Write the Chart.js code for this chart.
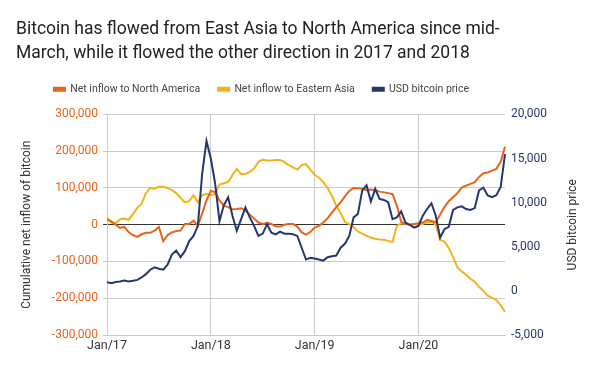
<!DOCTYPE html>
<html>
<head>
<meta charset="utf-8">
<script src="https://cdn.jsdelivr.net/npm/chart.js@4"></script>
<style>
  html, body { margin: 0; padding: 0; background: #fff; }
  #wrap { width: 600px; height: 371px; }
</style>
</head>
<body>
<div id="wrap"><canvas id="grafico" width="600" height="371"></canvas></div>
<script>
// half-monthly samples, Jan 2017 -> Nov 2020
const dates = [
  '2017-01-01','2017-01-15','2017-02-01','2017-02-15','2017-03-01','2017-03-15','2017-04-01','2017-04-15',
  '2017-05-01','2017-05-15','2017-06-01','2017-06-15','2017-07-01','2017-07-15','2017-08-01','2017-08-15',
  '2017-09-01','2017-09-15','2017-10-01','2017-10-15','2017-11-01','2017-11-15','2017-12-01','2017-12-15',
  '2018-01-01','2018-01-15','2018-02-01','2018-02-15','2018-03-01','2018-03-15','2018-04-01','2018-04-15',
  '2018-05-01','2018-05-15','2018-06-01','2018-06-15','2018-07-01','2018-07-15','2018-08-01','2018-08-15',
  '2018-09-01','2018-09-15','2018-10-01','2018-10-15','2018-11-01','2018-11-15','2018-12-01','2018-12-15',
  '2019-01-01','2019-01-15','2019-02-01','2019-02-15','2019-03-01','2019-03-15','2019-04-01','2019-04-15',
  '2019-05-01','2019-05-15','2019-06-01','2019-06-15','2019-07-01','2019-07-15','2019-08-01','2019-08-15',
  '2019-09-01','2019-09-15','2019-10-01','2019-10-15','2019-11-01','2019-11-15','2019-12-01','2019-12-15',
  '2020-01-01','2020-01-15','2020-02-01','2020-02-15','2020-03-01','2020-03-15','2020-04-01','2020-04-15',
  '2020-05-01','2020-05-15','2020-06-01','2020-06-15','2020-07-01','2020-07-15','2020-08-01','2020-08-15',
  '2020-09-01','2020-09-15','2020-10-01','2020-10-15','2020-11-01'
];

const tickDates = ['2017-01-01', '2018-01-01', '2019-01-01', '2020-01-01'];
const tickLabels = ['Jan/17', 'Jan/18', 'Jan/19', 'Jan/20'];

const inflowNorthAmerica = [
  14000, 9000, 0, -9000, -6000, -20000, -28000, -33000,
  -26000, -22000, -22000, -16000, -6000, -45000, -28000, -21000,
  -17000, -16000, 2000, 2000, 11000, -3000, 31000, 66000,
  92000, 89000, 66000, 52000, 48000, 42000, 43000, 45000,
  38000, 27000, 17000, 6000, 2000, 5000, 2000, -5000,
  -5000, 0, 2000, 2000, -5000, -21000, -27000, -20000,
  -8000, -3000, 6000, 18000, 33000, 48000, 61000, 77000,
  92000, 100000, 99000, 98000, 94000, 96000, 94000, 90000,
  88000, 86000, 83000, 52000, 8000, 2000, 0, 2000,
  4000, 6000, 13000, 10000, 6000, 27000, 48000, 64000,
  75000, 86000, 101000, 106000, 111000, 116000, 130000, 140000,
  142000, 147000, 152000, 171000, 212000
];

const inflowEasternAsia = [
  20000, 6000, 4000, 15000, 17000, 13000, 29000, 46000,
  57000, 86000, 100000, 98000, 103000, 103000, 100000, 94000,
  86000, 73000, 61000, 64000, 80000, 61000, 80000, 84000,
  80000, 83000, 109000, 113000, 116000, 135000, 152000, 138000,
  138000, 144000, 153000, 171000, 177000, 175000, 175000, 176000,
  176000, 171000, 162000, 156000, 150000, 162000, 165000, 150000,
  136000, 128000, 116000, 100000, 78000, 52000, 32000, 8000,
  2000, -6000, -18000, -24000, -30000, -35000, -38000, -40000,
  -41000, -44000, -47000, -3000, 4000, 2000, 0, 2000,
  0, 2000, 7000, 8000, 0, -41000, -46000, -63000,
  -88000, -116000, -127000, -136000, -147000, -155000, -169000, -180000,
  -193000, -199000, -205000, -219000, -237000
];

const btcPrice = [
  990, 870, 1000, 1060, 1180, 1060, 1140, 1250,
  1520, 1900, 2400, 2670, 2510, 2400, 2970, 4120,
  4580, 3820, 4500, 5650, 6230, 7370, 13300, 17000,
  15000, 12150, 7900, 9700, 10620, 8520, 6800, 8130,
  9470, 8330, 7370, 6230, 6490, 7560, 6600, 6410,
  6720, 6490, 6490, 6410, 6230, 4890, 3550, 3740,
  3660, 3550, 3430, 3820, 3930, 4000, 4890, 5340,
  6230, 8330, 8710, 11390, 11960, 10130, 11570, 10430,
  10310, 10050, 8130, 8330, 9020, 7750, 7490, 7180,
  7370, 8520, 9280, 9930, 8520, 6030, 6990, 7260,
  9170, 9470, 9590, 9280, 9170, 9390, 11390, 11690,
  10820, 10620, 10850, 11770, 15500
];

const titleLines = [
  'Bitcoin has flowed from East Asia to North America since mid-',
  'March, while it flowed the other direction in 2017 and 2018'
];
const leftTitle = 'Cumulative net inflow of bitcoin';
const rightTitle = 'USD bitcoin price';

const ORANGE = '#e8641b';
const YELLOW = '#f2b31c';
const NAVY = '#26366f';

Chart.defaults.font.family = 'Roboto, sans-serif';
Chart.defaults.color = '#333';

// extra room between the legend and the plot, and legend nudged right
const legendGap = {
    id: 'legendGap',
    beforeInit(chart) {
        Chart.layouts.addBox(chart, {
            position: 'top',
            weight: 500,
            fullSize: true,
            options: {},
            left: 0, top: 0, right: 0, bottom: 0, width: 0, height: 0,
            isHorizontal() { return true; },
            update(maxWidth) { this.width = maxWidth; this.height = 10; },
            draw() {}
        });
    },
    afterLayout(chart) {
        chart.legend.left += 20;
    }
};

// right axis title reads bottom-to-top like the left one
const rightAxisTitle = {
    id: 'rightAxisTitle',
    afterDraw(chart) {
        const s = chart.scales.y1;
        const area = chart.chartArea;
        const c = chart.ctx;
        c.save();
        c.translate(s.right - 11, (area.top + area.bottom) / 2);
        c.rotate(-Math.PI / 2);
        c.font = '12px Roboto, sans-serif';
        c.fillStyle = '#333';
        c.textAlign = 'center';
        c.textBaseline = 'middle';
        c.fillText(rightTitle, 0, 0);
        c.restore();
    }
};

const ctx = document.getElementById('grafico');

const chart = new Chart(ctx, {
    type: 'line',
    data: {
        labels: dates,
        datasets: [{
            label: 'Net inflow to North America',
            data: inflowNorthAmerica,
            borderColor: ORANGE,
            backgroundColor: ORANGE,
            yAxisID: 'y',
            order: 1
        }, {
            label: 'Net inflow to Eastern Asia',
            data: inflowEasternAsia,
            borderColor: YELLOW,
            backgroundColor: YELLOW,
            yAxisID: 'y',
            order: 2
        }, {
            label: 'USD bitcoin price',
            data: btcPrice,
            borderColor: NAVY,
            backgroundColor: NAVY,
            yAxisID: 'y1',
            order: 0
        }]
    },
    plugins: [legendGap, rightAxisTitle],
    options: {
        responsive: false,
        animation: false,
        layout: { padding: { left: 16, right: 16, top: 0, bottom: 0 } },
        elements: {
            point: { radius: 0 },
            line: { borderWidth: 2, tension: 0 }
        },
        plugins: {
            title: {
                display: true,
                align: 'start',
                text: titleLines,
                color: '#222',
                font: { size: 17.5, weight: 'normal', lineHeight: 1.37 },
                padding: { top: 18, bottom: 0 }
            },
            legend: {
                align: 'start',
                labels: {
                    boxWidth: 11,
                    boxHeight: 3,
                    padding: 18,
                    color: '#444',
                    font: { size: 10.5 },
                    sort: (a, b) => a.datasetIndex - b.datasetIndex
                }
            },
            tooltip: { enabled: false }
        },
        scales: {
            x: {
                grid: {
                    color: c => tickDates.includes(dates[c.index]) ? '#ccc' : 'rgba(0,0,0,0)',
                    drawTicks: false
                },
                border: { color: '#ccc' },
                ticks: {
                    autoSkip: false,
                    maxRotation: 0,
                    minRotation: 0,
                    padding: 3,
                    color: '#333',
                    font: { size: 12.5 },
                    callback: (v, i) => {
                        const k = tickDates.indexOf(dates[i]);
                        return k >= 0 ? tickLabels[k] : '';
                    }
                },
                afterFit: s => { s.height = 36; }
            },
            y: {
                position: 'left',
                min: -300000,
                max: 300000,
                ticks: {
                    stepSize: 100000,
                    color: ORANGE,
                    padding: 5,
                    font: { size: 12 },
                    callback: v => v.toLocaleString('en-US')
                },
                grid: {
                    color: c => c.tick.value === 0 ? '#333' : '#ccc',
                    tickLength: 4
                },
                border: { color: '#ccc' },
                title: {
                    display: true,
                    text: leftTitle,
                    color: '#333',
                    font: { size: 12 }
                },
                afterFit: s => { s.width = 91; }
            },
            y1: {
                position: 'right',
                min: -5000,
                max: 20000,
                ticks: {
                    stepSize: 5000,
                    color: NAVY,
                    padding: 6,
                    font: { size: 12 },
                    callback: v => v.toLocaleString('en-US')
                },
                grid: { drawOnChartArea: false, drawTicks: false },
                border: { display: false },
                title: { display: false },
                afterFit: s => { s.width = 79; }
            }
        }
    }
});
</script>
</body>
</html>
